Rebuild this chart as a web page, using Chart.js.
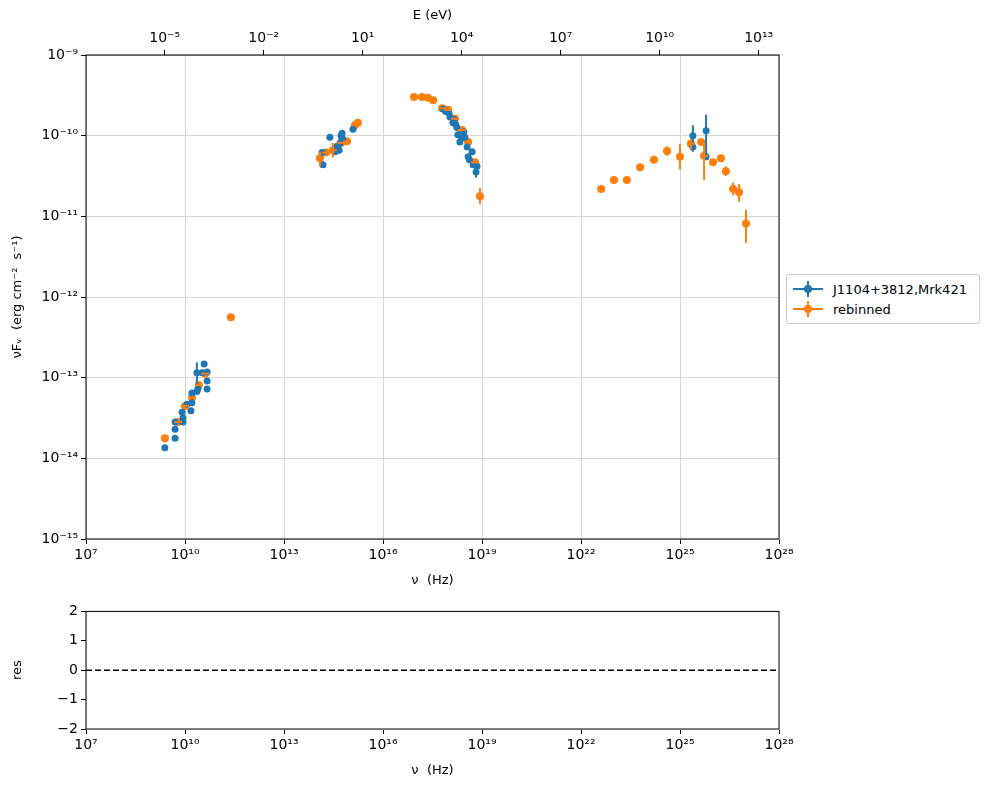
<!DOCTYPE html>
<html>
<head>
<meta charset="utf-8">
<script src="https://cdn.jsdelivr.net/npm/chart.js@4"></script>
<style>
  body { margin: 0; background: #fff; font-family: "DejaVu Sans", sans-serif; }
  #wrap { position: relative; width: 990px; height: 790px; }
  #mainBox { position: absolute; left: 0; top: 0; width: 990px; height: 600px; }
  #resBox { position: absolute; left: 0; top: 600px; width: 990px; height: 190px; }
  #legend { position: absolute; left: 786px; top: 274px; width: 192px; padding: 4px 0;
    border: 1px solid #ccc; border-radius: 3px; background: #fff; font-size: 13px; }
  .row { display: flex; align-items: center; height: 20px; }
  .mk { position: relative; width: 30px; height: 20px; margin: 0 10px 0 6px; }
  .mk .h { position: absolute; left: 0; right: 0; top: 9px; height: 2px; }
  .mk .v { position: absolute; left: 14px; width: 2px; top: 2px; bottom: 2px; }
  .mk .d { position: absolute; left: 11px; top: 6px; width: 8px; height: 8px; border-radius: 50%; }
</style>
</head>
<body>
<div id="wrap">
  <div id="mainBox"><canvas id="mainChart" width="990" height="600"></canvas></div>
  <div id="resBox"><canvas id="resChart" width="990" height="190"></canvas></div>
  <div id="legend">
    <div class="row"><div class="mk"><div class="h" style="background:#1f77b4"></div><div class="v" style="background:#1f77b4"></div><div class="d" style="background:#1f77b4"></div></div>J1104+3812,Mrk421</div>
    <div class="row"><div class="mk"><div class="h" style="background:#ff7f0e"></div><div class="v" style="background:#ff7f0e"></div><div class="d" style="background:#ff7f0e"></div></div>rebinned</div>
  </div>
</div>
<script>
// values, stored as log10(nu / Hz) and log10(nuFnu / erg cm^-2 s^-1)
const blueLogNu = [9.39, 9.70, 9.70, 9.70, 9.94, 9.94, 9.91, 10.06, 10.18, 10.21, 10.21, 10.36, 10.39, 10.36, 10.52, 10.58, 10.67, 10.67, 10.67,
  14.18, 14.15, 14.39, 14.55, 14.64, 14.76, 14.76, 14.70, 15.09, 14.61, 14.67, 14.73, 14.79,
  17.82, 18.03, 18.12, 18.24, 18.27, 18.39, 18.33, 18.48, 18.55, 18.58, 18.70, 18.73, 18.85, 18.82, 17.90, 18.00, 18.15, 18.20, 18.45, 18.62,
  25.39, 25.39, 25.79, 25.79];
const blueLogF = [-13.87, -13.75, -13.64, -13.55, -13.55, -13.50, -13.43, -13.33, -13.41, -13.31, -13.19, -13.17, -13.14, -12.94, -12.94, -12.83, -12.93, -13.04, -13.14,
  -10.36, -10.21, -10.02, -10.20, -10.15, -10.03, -9.97, -10.09, -9.92, -10.13, -10.18, -10.00, -10.05,
  -9.67, -9.77, -9.84, -9.90, -9.99, -10.03, -10.08, -10.02, -10.14, -10.26, -10.20, -10.36, -10.38, -10.45, -9.70, -9.72, -9.80, -9.86, -9.95, -10.30,
  -10.00, -10.14, -9.94, -10.26];
// [index, low, high] vertical error bars (log10)
const blueErr = [[13, -12.81, -13.09], [45, -10.38, -10.52], [52, -9.87, -10.20], [54, -9.74, -10.26]];

const orangeLogNu = [9.39, 9.79, 10.00, 10.21, 10.42, 10.61, 11.39,
  14.09, 14.27, 14.48, 14.73, 14.91, 15.15, 15.24,
  16.94, 17.18, 17.36, 17.52, 17.79, 17.97, 18.18, 18.39, 18.58, 18.79, 18.94,
  22.61, 23.00, 23.39, 23.79, 24.21, 24.61, 25.00, 25.33, 25.64, 25.73, 26.00, 26.24, 26.39, 26.61, 26.79, 27.00];
const orangeLogF = [-13.75, -13.55, -13.35, -13.25, -13.09, -12.95, -12.25,
  -10.28, -10.21, -10.18, -10.09, -10.07, -9.87, -9.84,
  -9.52, -9.52, -9.53, -9.56, -9.66, -9.68, -9.79, -9.93, -10.08, -10.33, -10.75,
  -10.66, -10.55, -10.55, -10.39, -10.30, -10.19, -10.26, -10.10, -10.08, -10.25, -10.33, -10.28, -10.44, -10.66, -10.70, -11.09];
const orangeErr = [[7, -10.20, -10.38], [9, -10.09, -10.27], [24, -10.65, -10.85], [25, -10.62, -10.70], [29, -10.26, -10.34],
  [30, -10.13, -10.25], [31, -10.10, -10.42], [32, -10.04, -10.17], [34, -10.08, -10.55], [37, -10.38, -10.50],
  [38, -10.58, -10.74], [39, -10.60, -10.82], [40, -10.92, -11.33]];

const nuTicks = [7, 10, 13, 16, 19, 22, 25, 28];
const fluxTicks = [-15, -14, -13, -12, -11, -10, -9];
const eTicks = [-5, -2, 1, 4, 7, 10, 13];
const resTicks = [-2, -1, 0, 1, 2];
const planckEv = 4.135667e-15;

const supMap = { '-': '⁻', '0': '⁰', '1': '¹', '2': '²', '3': '³', '4': '⁴', '5': '⁵', '6': '⁶', '7': '⁷', '8': '⁸', '9': '⁹' };
const pow10 = n => '10' + String(n).split('').map(c => supMap[c]).join('');
const toPts = (xs, ys) => xs.map((x, i) => ({ x: Math.pow(10, x), y: Math.pow(10, ys[i]) }));

Chart.defaults.font.family = '"DejaVu Sans", sans-serif';
Chart.defaults.font.size = 13;
Chart.defaults.color = '#000';

// draws the error bars and the box around the plot
const errPlugin = {
  id: 'errbars',
  afterDatasetsDraw(chart) {
    const { ctx, scales } = chart;
    const draw = (xs, errs, color) => {
      ctx.save();
      ctx.strokeStyle = color;
      ctx.lineWidth = 2;
      errs.forEach(([i, lo, hi]) => {
        const px = scales.x.getPixelForValue(Math.pow(10, xs[i]));
        ctx.beginPath();
        ctx.moveTo(px, scales.y.getPixelForValue(Math.pow(10, lo)));
        ctx.lineTo(px, scales.y.getPixelForValue(Math.pow(10, hi)));
        ctx.stroke();
      });
      ctx.restore();
    };
    if (chart.options.plugins.errbars.on) {
      draw(blueLogNu, blueErr, '#1f77b4');
      draw(orangeLogNu, orangeErr, '#ff7f0e');
      ctx.save();
      ctx.strokeStyle = '#ff7f0e';
      ctx.lineWidth = 2;
      orangeLogNu.forEach((x, i) => {
        const y = scales.y.getPixelForValue(Math.pow(10, orangeLogF[i]));
        ctx.beginPath();
        ctx.moveTo(scales.x.getPixelForValue(Math.pow(10, x - 0.12)), y);
        ctx.lineTo(scales.x.getPixelForValue(Math.pow(10, x + 0.12)), y);
        ctx.stroke();
      });
      ctx.restore();
    }
    const a = chart.chartArea;
    ctx.save();
    ctx.strokeStyle = '#000';
    ctx.lineWidth = 1;
    ctx.strokeRect(a.left, a.top, a.right - a.left, a.bottom - a.top);
    ctx.restore();
  }
};

const fixTicks = list => scale => { scale.ticks = list.map(v => ({ value: Math.pow(10, v) })); };
const fixSize = (w, h) => scale => { if (w) scale.width = w; if (h) scale.height = h; };
const tickFont = { size: 14 };

new Chart(document.getElementById('mainChart'), {
  type: 'scatter',
  data: {
    datasets: [
      { label: 'J1104+3812,Mrk421', data: toPts(blueLogNu, blueLogF), backgroundColor: '#1f77b4', borderWidth: 0, pointRadius: 3.5 },
      { label: 'rebinned', data: toPts(orangeLogNu, orangeLogF), backgroundColor: '#ff7f0e', borderWidth: 0, pointRadius: 4 }
    ]
  },
  options: {
    responsive: false, animation: false, devicePixelRatio: 1,
    layout: { padding: { left: 0, right: 211, top: 0, bottom: 0 } },
    plugins: { legend: { display: false }, tooltip: { enabled: false }, errbars: { on: true } },
    scales: {
      x: {
        type: 'logarithmic', min: 1e7, max: 1e28, position: 'bottom',
        afterBuildTicks: fixTicks(nuTicks), afterFit: fixSize(null, 61),
        ticks: { font: tickFont, callback: v => pow10(Math.round(Math.log10(v))), maxRotation: 0, autoSkip: false },
        grid: { color: '#d6d6d6', tickColor: '#000', tickLength: 5 },
        title: { display: true, text: 'ν  (Hz)', padding: { top: 0, bottom: 12 } }
      },
      xTop: {
        type: 'logarithmic', min: 1e7 * planckEv, max: 1e28 * planckEv, position: 'top',
        afterBuildTicks: fixTicks(eTicks), afterFit: fixSize(null, 55),
        ticks: { font: tickFont, callback: v => pow10(Math.round(Math.log10(v))), maxRotation: 0, autoSkip: false },
        grid: { drawOnChartArea: false, tickColor: '#000', tickLength: 5 },
        title: { display: true, text: 'E (eV)', padding: { top: 8, bottom: 0 } }
      },
      y: {
        type: 'logarithmic', min: 1e-15, max: 1e-9,
        afterBuildTicks: fixTicks(fluxTicks), afterFit: fixSize(86, null),
        ticks: { font: tickFont, callback: v => pow10(Math.round(Math.log10(v))), autoSkip: false },
        grid: { color: '#d6d6d6', tickColor: '#000', tickLength: 5 },
        title: { display: true, text: 'νFᵥ  (erg cm⁻²  s⁻¹)', padding: { top: 10, bottom: 4 } }
      }
    }
  },
  plugins: [errPlugin]
});

new Chart(document.getElementById('resChart'), {
  type: 'line',
  data: {
    datasets: [
      { data: [{ x: 1e7, y: 0 }, { x: 1e28, y: 0 }], borderColor: '#000', borderWidth: 1.6, borderDash: [6, 3], pointRadius: 0 }
    ]
  },
  options: {
    responsive: false, animation: false, devicePixelRatio: 1,
    layout: { padding: { left: 0, right: 211, top: 9, bottom: 0 } },
    plugins: { legend: { display: false }, tooltip: { enabled: false }, errbars: { on: false } },
    scales: {
      x: {
        type: 'logarithmic', min: 1e7, max: 1e28,
        afterBuildTicks: fixTicks(nuTicks), afterFit: fixSize(null, 61),
        ticks: { font: tickFont, callback: v => pow10(Math.round(Math.log10(v))), maxRotation: 0, autoSkip: false },
        grid: { drawOnChartArea: false, tickColor: '#000', tickLength: 5 },
        title: { display: true, text: 'ν  (Hz)', padding: { top: 0, bottom: 12 } }
      },
      y: {
        min: -2, max: 2,
        afterBuildTicks: scale => { scale.ticks = resTicks.map(v => ({ value: v })); },
        afterFit: fixSize(86, null),
        ticks: { font: tickFont, callback: v => String(v).replace('-', '−') },
        grid: { drawOnChartArea: false, tickColor: '#000', tickLength: 5 },
        title: { display: true, text: 'res', padding: { top: 10, bottom: 4 } }
      }
    }
  },
  plugins: [errPlugin]
});
</script>
</body>
</html>
